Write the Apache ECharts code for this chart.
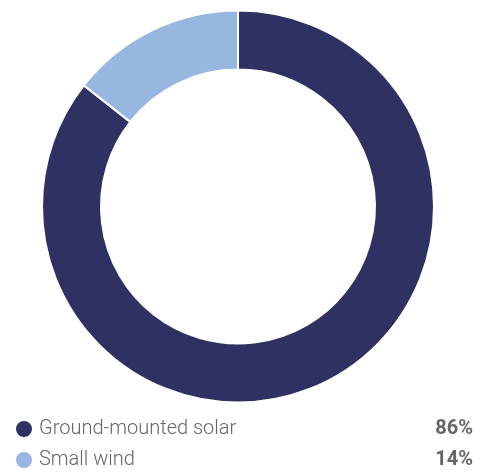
<!DOCTYPE html>
<html>
<head>
<meta charset="utf-8">
<script src="https://cdn.jsdelivr.net/npm/echarts@6/dist/echarts.min.js"></script>
<style>html,body{margin:0;padding:0;background:#fff}#c{width:485px;height:472px}</style>
</head>
<body>
<div id="c"></div>
<script>
var categories = ['Ground-mounted solar', 'Small wind'];
var values = [85.6, 14.4];
var colors = ['#303163', '#97b7e0'];

var chart = echarts.init(document.getElementById('c'), null, {renderer: 'canvas'});
var data = categories.map(function (c, i) { return {name: c, value: values[i], itemStyle: {color: colors[i]}}; });

function makeLegend(i, top) {
  return {
    orient: 'vertical',
    left: 14,
    top: top,
    padding: 0,
    icon: 'circle',
    itemWidth: 18,
    itemHeight: 18,
    selectedMode: false,
    data: [categories[i]],
    formatter: function (name) {
      var k = categories.indexOf(name);
      return '{n|' + name + '}{p|' + Math.round(values[k]) + '%}';
    },
    textStyle: {
      rich: {
        n: {width: 384, padding: [0, 0, 0, 1], fontFamily: 'Roboto', fontSize: 20, fontWeight: 300, color: '#666666', lineHeight: 22},
        p: {width: 50, align: 'right', fontFamily: 'Roboto', fontSize: 20, fontWeight: 'bold', color: '#666666', lineHeight: 22}
      }
    }
  };
}

chart.setOption({
  animation: false,
  legend: [makeLegend(0, 419), makeLegend(1, 450)],
  series: [{
    type: 'pie',
    center: [238, 206.5],
    radius: [137, 196],
    startAngle: 90,
    clockwise: true,
    label: {show: false},
    labelLine: {show: false},
    emphasis: {disabled: true},
    itemStyle: {borderColor: '#ffffff', borderWidth: 2},
    data: data
  }]
});
</script>
</body>
</html>
